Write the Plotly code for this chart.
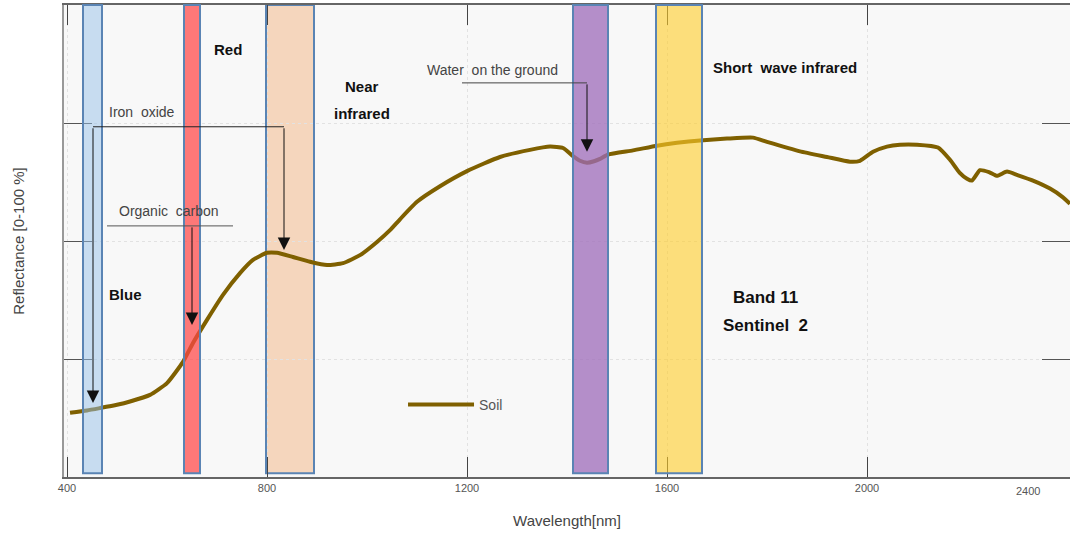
import plotly.graph_objects as go

# ---- data ----
wavelength = [406, 440, 466, 500, 526, 566, 600, 632, 652, 680, 712, 746, 772, 800, 820, 852,
              886, 920, 952, 986, 1020, 1046, 1066, 1100, 1146, 1200, 1266, 1326, 1366, 1392,
              1412, 1426, 1440, 1454, 1466, 1482, 1532, 1580, 1620, 1666, 1720, 1772, 1800,
              1866, 1920, 1966, 1986, 2012, 2040, 2066, 2100, 2142, 2166, 2185, 2200, 2210,
              2226, 2244, 2260, 2280, 2300, 2332, 2366, 2390, 2406]
reflectance = [13.6, 14.1, 14.6, 15.3, 16.0, 17.4, 19.9, 24.4, 28.4, 33.3, 38.6, 43.2, 46.0,
               47.5, 47.5, 46.6, 45.6, 44.9, 45.3, 47.0, 49.8, 52.3, 54.6, 58.3, 61.6, 64.8,
               67.8, 69.3, 70.0, 69.7, 68.0, 67.0, 66.6, 66.9, 67.4, 68.3, 69.2, 70.2, 70.8,
               71.3, 71.7, 71.9, 71.0, 69.0, 67.8, 66.8, 67.0, 68.9, 70.0, 70.4, 70.4, 69.8,
               67.2, 64.5, 63.2, 62.8, 65.0, 64.6, 63.8, 64.7, 64.0, 62.8, 61.1, 59.4, 57.9]

band_names = ["Blue", "Red", "Near infrared", "Water", "SWIR B11"]
band_start = [432, 634, 798, 1412, 1578]
band_end = [470, 666, 894, 1482, 1670]
band_fill = ["rgba(150,192,232,0.5)", "rgba(255,70,70,0.72)", "rgba(242,180,130,0.5)",
             "rgba(157,107,185,0.75)", "rgba(255,205,40,0.6)"]
band_layer = ["above", "above", "below", "above", "above"]

x_tickvals = [400, 800, 1200, 1600, 2000]
x_ticktext = ["400", "800", "1200", "1600", "2000"]
y_tickvals = [25, 50, 75]

FONT = "Liberation Sans, Arial, sans-serif"
CURVE = "#7f6000"

fig = go.Figure()
fig.add_trace(go.Scatter(x=wavelength, y=reflectance, mode="lines", name="Soil",
                         line=dict(color=CURVE, width=4, shape="spline", smoothing=0.5)))

for name, a, b, c, lay in zip(band_names, band_start, band_end, band_fill, band_layer):
    fig.add_shape(type="rect", xref="x", yref="paper", x0=a, x1=b, y0=0.008, y1=1.0,
                  fillcolor=c, line=dict(color="#5a84b4", width=2), layer=lay)

# leader lines (horizontal parts)
leaders = [  # x0, x1, y, color
    (452, 834, 74.2, "#222222"),
    (480, 732, 53.2, "#555555"),
    (1190, 1440, 83.5, "#444444"),
]
for x0, x1, yy, col in leaders:
    fig.add_shape(type="line", xref="x", yref="y", x0=x0, x1=x1, y0=yy, y1=yy,
                  line=dict(color=col, width=1), layer="above")

# arrows (tip, start)
arrows = [
    (452, 15.7, 452, 74.2),
    (834, 48.1, 834, 74.2),
    (650, 32.2, 650, 53.2),
    (1440, 68.9, 1440, 83.5),
]
for x, y, ax, ay in arrows:
    fig.add_annotation(x=x, y=y, ax=ax, ay=ay, xref="x", yref="y", axref="x", ayref="y",
                       text="", showarrow=True, arrowhead=2, arrowsize=2.5, arrowwidth=1,
                       arrowcolor="#111111")

labels = [  # text, x, y, bold, anchor, color, size
    ("Red", 722, 90.5, True, "center", "#111", 15),
    ("Near", 990, 82.8, True, "center", "#111", 15),
    ("infrared", 990, 77.1, True, "center", "#111", 15),
    ("Blue", 516, 38.6, True, "center", "#111", 15),
    ("Water  on the ground", 1250, 86.2, False, "center", "#444", 14),
    ("Short  wave infrared", 1836, 86.7, True, "center", "#111", 15),
    ("Band 11", 1796, 38.1, True, "center", "#111", 17),
    ("Sentinel  2", 1796, 32.2, True, "center", "#111", 17),
    ("Iron  oxide", 480, 77.3, False, "left", "#444", 14),
    ("Organic  carbon", 500, 56.4, False, "left", "#444", 14),
]
for t, x, y, bold, anc, col, sz in labels:
    fig.add_annotation(x=x, y=y, xref="x", yref="y", text=f"<b>{t}</b>" if bold else t,
                       showarrow=False, xanchor=anc, font=dict(family=FONT, size=sz, color=col))

# clipped last tick label
fig.add_annotation(x=0.972, y=-0.012, xref="paper", yref="paper", text="2400", showarrow=False,
                   yanchor="top", font=dict(family=FONT, size=11, color="#555"))

fig.update_layout(
    width=1070, height=537,
    margin=dict(l=64, r=0, t=5, b=60, autoexpand=False),
    paper_bgcolor="white", plot_bgcolor="#f8f8f8",
    font=dict(family=FONT, color="#444"),
    showlegend=True,
    legend=dict(x=0.337, y=0.153, xanchor="left", yanchor="middle", bgcolor="rgba(0,0,0,0)",
                itemwidth=66, font=dict(family=FONT, size=14, color="#555")),
    xaxis=dict(range=[394, 2406], tickvals=x_tickvals, ticktext=x_ticktext, ticks="inside",
               ticklen=20, tickcolor="#444", tickwidth=1, showline=True, linecolor="#666",
               linewidth=2, mirror="ticks", showgrid=True, gridcolor="#e2e2e2", griddash="dot",
               zeroline=False, automargin=False, tickfont=dict(family=FONT, size=11, color="#555"),
               title=dict(text="Wavelength[nm]", font=dict(family=FONT, size=15, color="#444"),
                          standoff=22)),
    yaxis=dict(range=[0, 100], tickvals=y_tickvals, showticklabels=False, ticks="inside",
               ticklen=28, tickcolor="#555", tickwidth=1, showline=True, linecolor="#999",
               linewidth=2, mirror="ticks", showgrid=True, gridcolor="#e2e2e2", griddash="dot",
               zeroline=False, automargin=False,
               title=dict(text="Reflectance [0-100 %]", font=dict(family=FONT, size=15, color="#444"),
                          standoff=34)),
)

fig.write_html("out.html", config={"displayModeBar": False},
               post_script="document.body.style.margin='0px';")
